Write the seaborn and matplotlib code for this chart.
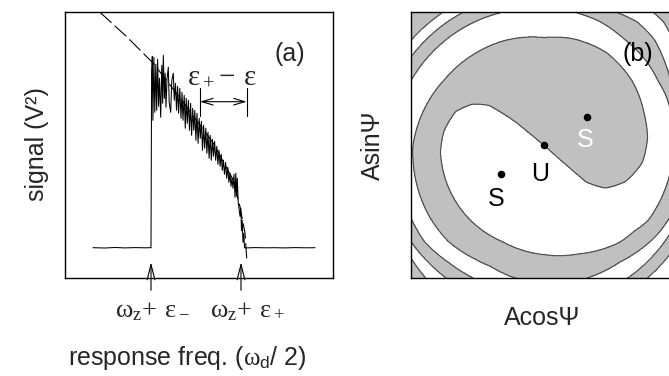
import numpy as np
import matplotlib
matplotlib.use("Agg")
import matplotlib.pyplot as plt
import seaborn as sns

sns.set_style("white")
plt.rcParams["font.family"] = ["Liberation Sans", "DejaVu Sans"]
plt.rcParams["mathtext.fontset"] = "custom"
plt.rcParams["mathtext.rm"] = "Liberation Serif"
plt.rcParams["mathtext.it"] = "Liberation Serif"
plt.rcParams["mathtext.sf"] = "Liberation Sans"

# ---------------- panel (a) data (arbitrary units) ----------
trace_x = [28, 40, 50, 60, 70, 80, 85.5, 86.0, 86.6, 87.3, 87.9, 88.9, 89.8, 90.8, 91.7, 92.6,
           93.6, 94.5, 95.7, 96.8, 97.7, 98.3, 99.4, 100.2, 101.0, 102.0, 103.3, 104.2,
           105.7, 106.8, 108.3, 109.3, 110.5, 111.5, 112.6, 113.6, 114.8, 116.0, 117.0,
           118.0, 119.2, 120.3, 121.2, 122.3, 123.4, 124.5, 125.6, 126.6, 127.7, 128.8,
           129.8, 130.9, 132.0, 133.1, 134.2, 135.3, 136.4, 137.5, 138.6, 139.7, 140.8,
           141.9, 143.0, 144.1, 145.2, 146.3, 147.4, 148.5, 149.6, 150.7, 151.8, 152.9,
           154.0, 155.1, 156.2, 157.3, 158.4, 159.5, 160.6, 161.7, 162.8, 163.9, 165.0,
           166.0, 167.0, 168.0, 169.0, 170.0, 170.8, 171.5, 172.3, 173.2, 174.0, 175.0,
           175.8, 176.5, 177.2, 178.0, 178.8, 179.5, 181, 190, 200, 210, 220, 230, 240, 250]
trace_y = [30.6, 30.3, 30.8, 30.4, 30.7, 30.5, 30.6, 30.6, 205, 222, 158, 221, 166, 214, 168, 219,
           172, 200, 161, 213, 175, 223, 180, 205, 171, 199, 211, 176,
           166, 198, 205, 178, 195, 168, 192, 165, 190, 160, 186,
           158, 183, 150, 180, 155, 178, 148, 175, 143, 170, 148,
           168, 138, 165, 135, 160, 140, 157, 128, 153, 130, 150,
           125, 146, 120, 143, 118, 139, 122, 137, 118, 132, 114,
           128, 112, 124, 108, 118, 104, 116, 100, 111, 96, 105,
           92, 100, 90, 104, 81, 105, 82, 100, 76, 70, 62,
           70, 48, 58, 36, 45, 30.6, 30.4, 30.7, 30.5, 30.6, 30.4, 30.7, 30.5, 30.6]
fit_x = [35, 61.7, 88.3, 121.7, 148.3, 168.3, 175, 180, 181.7]
fit_y = [266, 241.6, 215, 171.6, 135, 98.3, 71.6, 45.3, 20]
marks_x = [86, 176]          # epsilon_- and epsilon_+ positions
gap_x = [135, 181.7]         # eps_+ - eps arrow ends
gap_y = 176.6

# ---------------- panel (b) data: basin boundaries (angle deg, radius) --------
b1_a = [-42, -41, -35, -24, -10, 4, 18, 36, 56, 75, 90, 110, 128, 146, 163, 180, 196,
        211, 225, 239, 246, 257, 270, 287, 303, 321, 330, 360, 389, 396, 404, 413, 421,
        450, 482, 506, 576, 585, 593, 668, 679, 765, 855, 945, 1100]
b1_r = [0.0, 0.42, 0.56, 0.67, 0.75, 0.78, 0.79, 0.82, 0.84, 0.83, 0.81, 0.84, 0.865,
        0.895, 0.94, 0.985, 1.0, 1.014, 1.02, 1.0, 0.995, 1.02, 1.03, 1.05, 1.047, 1.084,
        1.09, 1.08, 1.078, 1.11, 1.15, 1.162, 1.14, 1.14, 1.171, 1.2, 1.235, 1.237, 1.24,
        1.265, 1.252, 1.45, 1.43, 1.45, 1.6]
b2_a = [140, 140.6, 144, 150, 159, 172, 184, 204, 227, 247, 270, 288, 308, 316, 324, 346,
        360, 382, 389, 399, 413, 426, 435, 440, 450, 460, 469, 514, 569, 579, 591, 601,
        662, 684, 762, 766, 771, 848, 862, 940, 948, 1035, 1200]
b2_r = [0.0, 0.276, 0.51, 0.62, 0.71, 0.76, 0.78, 0.785, 0.79, 0.789, 0.822, 0.858, 0.925,
        0.935, 0.965, 0.97, 0.98, 0.99, 0.985, 0.996, 1.001, 1.021, 1.025, 1.035, 1.05,
        1.06, 1.05, 1.112, 1.14, 1.155, 1.136, 1.131, 1.18, 1.158, 1.27, 1.292, 1.294,
        1.257, 1.274, 1.31, 1.336, 1.42, 1.6]
pts_x = [0.321, 0.0, -0.326]
pts_y = [0.213, 0.0, -0.213]

W, H = 669, 376
fig = plt.figure(figsize=(W / 100, H / 100), dpi=100)

def fx(px):
    return px / W

def fy(py):
    return 1 - py / H

# ---------------- panel (a) -------------------------------------------------
axa = fig.add_axes([fx(65), fy(278.3), 268.3 / W, 266 / H])
sns.lineplot(x=trace_x, y=trace_y, sort=False, estimator=None, color="black",
             lw=0.75, ax=axa)
sns.lineplot(x=fit_x, y=fit_y, sort=False, estimator=None, color="black", lw=0.8,
             ax=axa, dashes=False)
axa.lines[-1].set_dashes((14, 4))
axa.set_xlim(0, 268.3)
axa.set_ylim(0, 266)
axa.set_xticks([])
axa.set_yticks([])
for s in axa.spines.values():
    s.set_color("black")
    s.set_linewidth(1.0)

for mx in marks_x:
    axa.annotate("", xy=(mx, 16), xytext=(mx, -12),
                 arrowprops=dict(arrowstyle="->,head_length=1.1,head_width=0.28",
                                 lw=0.8, color="black", shrinkA=0, shrinkB=0),
                 annotation_clip=False)
axa.annotate("", xy=(gap_x[0], gap_y), xytext=(gap_x[1], gap_y),
             arrowprops=dict(arrowstyle="<->,head_length=0.8,head_width=0.24",
                             lw=0.8, color="black", shrinkA=0, shrinkB=0))
for gx in gap_x:
    axa.plot([gx, gx], [162, 190], color="black", lw=0.8)

fig.text(fx(290), fy(54), "(a)", fontsize=18, ha="center", va="center")
fig.text(fx(222), fy(83), r"$\varepsilon_+\!-\,\varepsilon$", fontsize=21,
         ha="center", va="baseline")
fig.text(fx(152.5), fy(317.7), r"$\omega_z\!+\,\varepsilon_-$", fontsize=19,
         ha="center", va="baseline")
fig.text(fx(247), fy(317.7), r"$\omega_z\!+\,\varepsilon_+$", fontsize=19,
         ha="center", va="baseline")
fig.text(fx(37), fy(144.5), "signal (V\u00b2)", fontsize=18, rotation=90,
         ha="center", va="center")
fig.text(fx(187.5), fy(365), r"response freq. ($\omega_{\sf d}$/ 2)", fontsize=18,
         ha="center", va="baseline")

# ---------------- panel (b) -------------------------------------------------
N = 700
g = np.linspace(-1, 1, N)
X, Y = np.meshgrid(g, g)
R = np.hypot(X, Y)
T = np.degrees(np.arctan2(Y, X)) % 360


def crossings(a_tab, r_tab):
    a_tab = np.asarray(a_tab, float)
    r_tab = np.asarray(r_tab, float)
    cnt = np.zeros(R.shape, dtype=int)
    for k in range(-1, 5):
        a = T + 360 * k
        valid = (a >= a_tab[0]) & (a <= a_tab[-1])
        rc = np.interp(a, a_tab, r_tab)
        cnt += (valid & (rc < R)).astype(int)
    return cnt


start_gray = ((T - b1_a[0]) % 360) < ((b2_a[0] - b1_a[0]) % 360)
n = crossings(b1_a, b1_r) + crossings(b2_a, b2_r)
field = (start_gray ^ (n % 2 == 1)).astype(float)

axb = fig.add_axes([fx(411), fy(278.3), 266 / W, 266 / H])
axb.contourf(g, g, field, levels=[-0.5, 0.5, 1.5], colors=["white", "#c0c0c0"])
axb.contour(g, g, field, levels=[0.5], colors="#4a4a4a", linewidths=0.8)
sns.scatterplot(x=pts_x, y=pts_y, color="black", s=30, ax=axb, zorder=5,
                edgecolor="black", linewidth=0)
axb.set_xlim(-1, 1)
axb.set_ylim(-1, 1)
axb.set_xticks([])
axb.set_yticks([])
for s in axb.spines.values():
    s.set_color("black")
    s.set_linewidth(1.0)
axb.text(0.312, 0.038, "S", color="white", fontsize=18, ha="center", va="center")
axb.text(-0.03, -0.213, "U", color="black", fontsize=18, ha="center", va="center")
axb.text(-0.363, -0.406, "S", color="black", fontsize=18, ha="center", va="center")
axb.text(0.707, 0.69, "(b)", color="black", fontsize=18, ha="center", va="center")
fig.text(fx(372.5), fy(145), "Asin\u03a8", fontsize=18, rotation=90,
         ha="center", va="center")
fig.text(fx(542), fy(318), "Acos\u03a8", fontsize=18, ha="center", va="center")

fig.savefig("out.png", dpi=100)
